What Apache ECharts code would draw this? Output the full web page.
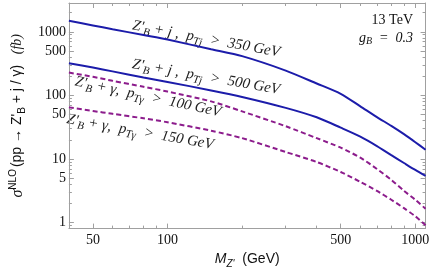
<!DOCTYPE html>
<html><head><meta charset="utf-8">
<script src="https://cdn.jsdelivr.net/npm/echarts@6/dist/echarts.min.js"></script>
<style>html,body{margin:0;padding:0;background:#fff}#c{width:432px;height:274px}</style>
</head><body><div id="c"></div>
<script>
// Data (M_Z' in GeV, sigma in fb)
const masses = [40,50,60,80,100,150,200,300,400,500,600,700,800,900,1000,1100];
const jet350 = [1490,1260,1100,890,755,533,415,246,154,106,67.3,45.6,33.2,24.6,18.4,14.0];
const jet500 = [321,274,239,192,163,120,94.8,63.8,45.3,31.1,22.5,16.0,11.5,8.66,6.73,5.43];
const gam100 = [229,196,170,137,115,80.6,56.2,32.8,21.3,15.1,10.5,6.98,4.70,3.16,2.29,1.65];
const gam150 = [64.9,57.0,51.4,43.7,37.9,27.9,21.3,12.9,8.98,6.26,4.37,3.16,2.29,1.69,1.26,0.91];
const xMajor = [50,100,500,1000];
const xMinor = [40,60,70,80,90,200,300,400,600,700,800,900];
const yMajor = [1,5,10,50,100,500,1000];
const yMinor = [0.9,2,3,4,6,7,8,9,20,30,40,60,70,80,90,200,300,400,600,700,800,900,2000];

const X_MIN = 40, X_MAX = 1100, Y_MIN = 0.806, Y_MAX = 2840;
const frame = '#a0a0a0';
const serif = "'Liberation Serif','DejaVu Serif',serif";
const sans = "'Liberation Sans','DejaVu Sans',sans-serif";
const plain = v => String(Math.round(v * 1000) / 1000);

function xAx(pos, vals, len, withLabels, line, name) {
  const a = {
    type: 'log', logBase: 10, min: X_MIN, max: X_MAX, position: pos,
    axisLine: {show: line, onZero: false, lineStyle: {color: frame, width: 1}},
    axisTick: {show: true, inside: true, length: len, customValues: vals, lineStyle: {color: frame}},
    axisLabel: withLabels ? {show: true, customValues: vals, formatter: plain, margin: 5, color: '#111', fontFamily: serif, fontSize: 14} : {show: false},
    splitLine: {show: false}, minorTick: {show: false}
  };
  if (name) Object.assign(a, name);
  return a;
}
function yAx(pos, vals, len, withLabels, line, name) {
  const a = {
    type: 'log', logBase: 10, min: Y_MIN, max: Y_MAX, position: pos,
    axisLine: {show: line, onZero: false, lineStyle: {color: frame, width: 1}},
    axisTick: {show: true, inside: true, length: len, customValues: vals, lineStyle: {color: frame}},
    axisLabel: withLabels ? {show: true, customValues: vals, formatter: plain, margin: 3, color: '#111', fontFamily: serif, fontSize: 14} : {show: false},
    splitLine: {show: false}, minorTick: {show: false}
  };
  if (name) Object.assign(a, name);
  return a;
}

const xName = {
  name: '{m|M}{sub|Z\'}{t|  (GeV)}', nameLocation: 'middle', nameGap: 10,
  nameTextStyle: {
    rich: {
      m: {fontFamily: sans, fontStyle: 'italic', fontSize: 14, color: '#111'},
      sub: {fontFamily: sans, fontStyle: 'italic', fontSize: 10, color: '#111', padding: [9,0,0,0]},
      t: {fontFamily: sans, fontSize: 14, color: '#111'}
    }
  }
};
const yName = {
  name: '{s|σ}{sup|NLO}{t|(pp → Z\'}{sub|B}{t| + j / γ)}{f|   (fb)}',
  nameLocation: 'middle', nameGap: 38, nameRotate: 90,
  nameTextStyle: {
    rich: {
      s: {fontFamily: serif, fontStyle: 'italic', fontSize: 16, color: '#111'},
      sup: {fontFamily: sans, fontSize: 10, color: '#111', padding: [0,2,9,0]},
      t: {fontFamily: sans, fontSize: 14, color: '#111'},
      sub: {fontFamily: sans, fontSize: 10, color: '#111', padding: [9,0,0,0]},
      f: {fontFamily: serif, fontStyle: 'italic', fontSize: 14, color: '#111'}
    }
  }
};

const labRich = {
  i: {fontFamily: serif, fontStyle: 'italic', fontSize: 15, fill: '#222'},
  sub: {fontFamily: serif, fontStyle: 'italic', fontSize: 11, fill: '#222', padding: [9,0,0,0]}
};
function curveLabel(text, x, y, deg) {
  return {type: 'text', x: x, y: y, rotation: -deg * Math.PI / 180,
    style: {text: text, rich: labRich, align: 'center', verticalAlign: 'middle'}};
}

const blue = '#1c1caa', purple = '#8c1c8c';
function mk(vals, color, dashed) {
  return {type: 'line', data: masses.map((m, i) => [m, vals[i]]), symbol: 'none', smooth: 0.25,
    xAxisIndex: 0, yAxisIndex: 0, silent: true,
    lineStyle: {color: color, width: 2, type: dashed ? [5, 3] : 'solid'}};
}

const chart = echarts.init(document.getElementById('c'), null, {renderer: 'canvas'});
chart.setOption({
  animation: false,
  backgroundColor: '#fff',
  grid: {left: 58, right: 5, top: 3, bottom: 44, containLabel: false},
  xAxis: [
    xAx('bottom', xMajor, 5, true, true, xName),
    xAx('bottom', xMinor, 3, false, false),
    xAx('top', xMajor, 5, false, true),
    xAx('top', xMinor, 3, false, false)
  ],
  yAxis: [
    yAx('left', yMajor, 5, true, true, yName),
    yAx('left', yMinor, 3, false, false),
    yAx('right', yMajor, 5, false, true),
    yAx('right', yMinor, 3, false, false)
  ],
  series: [mk(jet350, blue, false), mk(jet500, blue, false), mk(gam100, purple, true), mk(gam150, purple, true)],
  graphic: [
    curveLabel('{i|Z\'}{sub|B}{i| + j ,  p}{sub|Tj}{i|  >  350 GeV}', 206, 39, 10.5),
    curveLabel('{i|Z\'}{sub|B}{i| + j ,  p}{sub|Tj}{i|  >  500 GeV}', 206, 77, 10),
    curveLabel('{i|Z\'}{sub|B}{i| + γ,  p}{sub|Tγ}{i|  >  100 GeV}', 148, 97, 12),
    curveLabel('{i|Z\'}{sub|B}{i| + γ,  p}{sub|Tγ}{i|  >  150 GeV}', 140, 132, 10),
    {type: 'text', x: 413, y: 20, style: {text: '13 TeV', font: '14px ' + serif, fill: '#111', align: 'right', verticalAlign: 'middle'}},
    {type: 'text', x: 413, y: 38, style: {text: '{g|g}{sub|B}{g|  =  0.3}', align: 'right', verticalAlign: 'middle',
      rich: {g: {fontFamily: serif, fontStyle: 'italic', fontSize: 14, fill: '#111'}, sub: {fontFamily: serif, fontStyle: 'italic', fontSize: 10, fill: '#111', padding: [7,0,0,0]}}}}
  ]
});
</script></body></html>
